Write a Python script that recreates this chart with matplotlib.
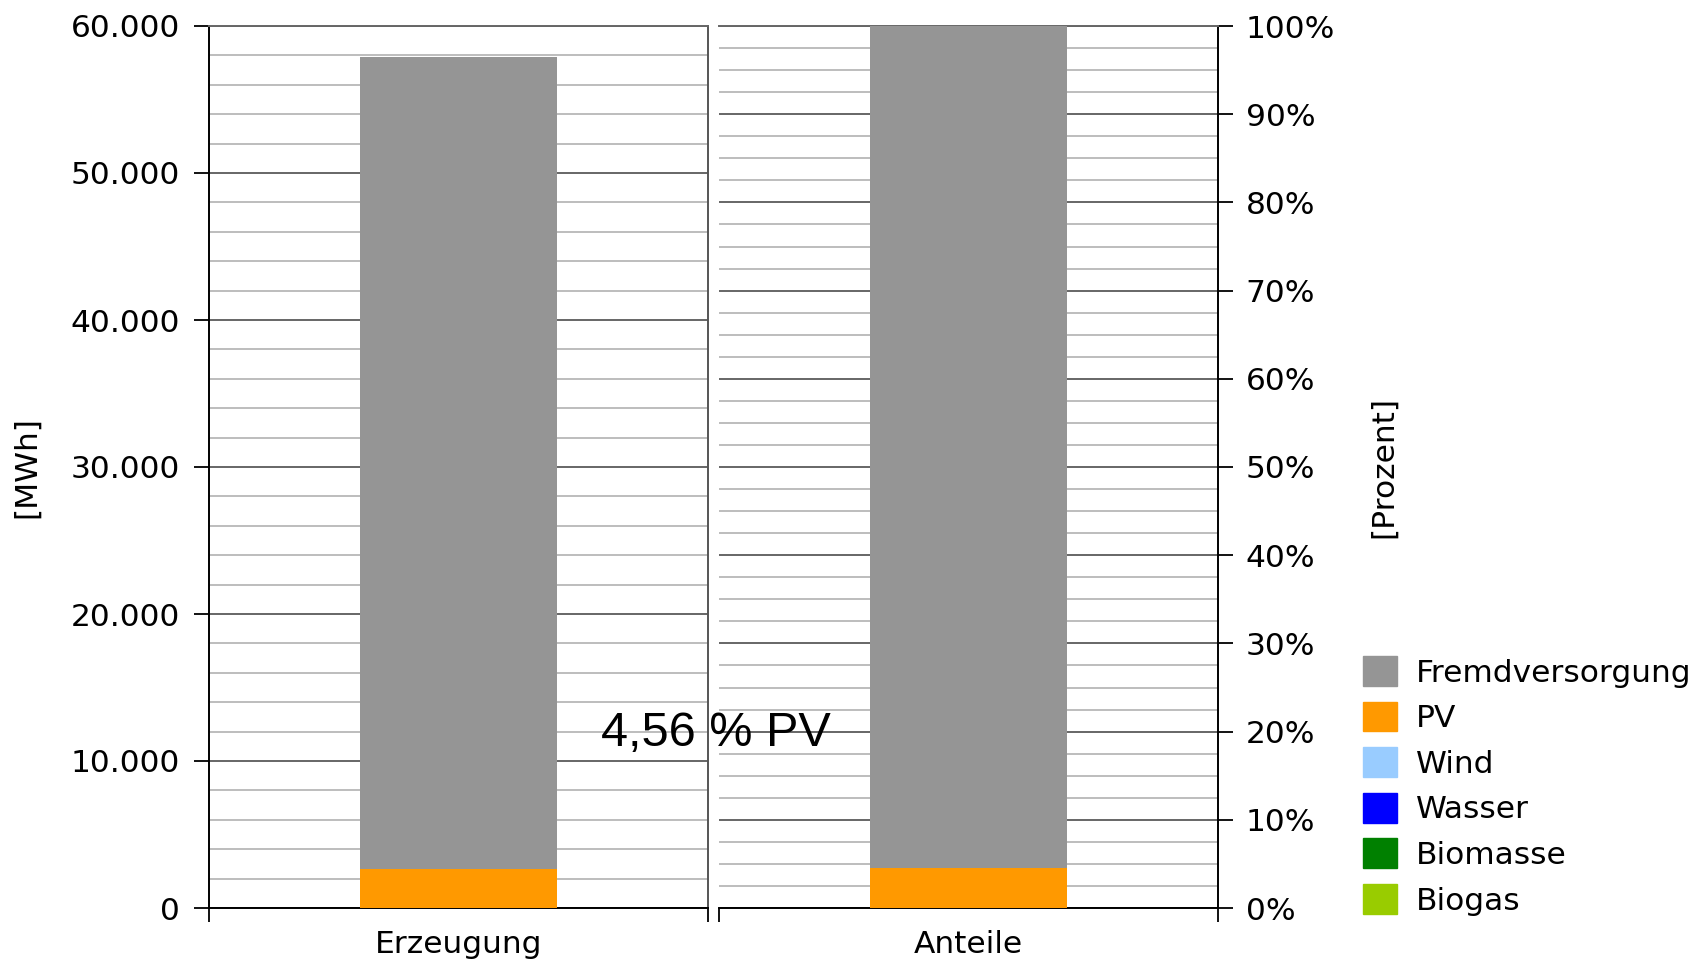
import numpy as np
import matplotlib
matplotlib.use("Agg")
import matplotlib.pyplot as plt
from matplotlib.patches import Patch
from matplotlib.ticker import MultipleLocator, FuncFormatter

# Daten (MWh)
quellen = ["Fremdversorgung", "PV", "Wind", "Wasser", "Biomasse", "Biogas"]
farben = ["#959595", "#ff9900", "#99ccff", "#0000ff", "#008000", "#99cc00"]
erzeugung = [55260, 2640, 0, 0, 0, 0]   # MWh
kategorien = ["Erzeugung", "Anteile"]

gesamt = sum(erzeugung)
anteile = [v / gesamt * 100 for v in erzeugung]
pv_anteil = erzeugung[1] / gesamt * 100

plt.rcParams['font.family'] = 'DejaVu Sans'
fs = 22.5

fig = plt.figure(figsize=(17.06, 9.69), dpi=100)
ax1 = fig.add_axes([209/1706, 61/969, 499/1706, 882/969])
ax2 = fig.add_axes([719/1706, 61/969, 499/1706, 882/969])

for ax, werte, kat in zip([ax1, ax2], [erzeugung, anteile], kategorien):
    unten = 0
    # gestapelte Saeule, Reihenfolge von unten: PV ... dann Fremdversorgung oben
    for idx in [1, 2, 3, 4, 5, 0]:
        ax.bar(0, werte[idx], width=0.395, bottom=unten, color=farben[idx], zorder=3)
        unten += werte[idx]
    ax.set_xlim(-0.5, 0.5)
    ax.set_xticks([0])
    ax.set_xticklabels([kat], fontsize=fs)
    ax.tick_params(axis='x', which='major', length=0, pad=16)
    ax.set_xticks([-0.5, 0.5], minor=True)
    ax.tick_params(axis='x', which='minor', length=10, width=1.3, direction='out')
    ax.grid(axis='y', which='major', color='#666666', lw=1.4, zorder=1)
    ax.grid(axis='y', which='minor', color='#bdbdbd', lw=1.4, zorder=1)
    ax.spines['top'].set_color('#666666')
    ax.spines['top'].set_linewidth(1.4)
    ax.spines['bottom'].set_linewidth(1.4)
    ax.tick_params(axis='y', which='minor', length=0)

# linke Achse MWh
ax1.set_ylim(0, 60000)
ax1.yaxis.set_major_locator(MultipleLocator(10000))
ax1.yaxis.set_minor_locator(MultipleLocator(2000))
ax1.yaxis.set_major_formatter(FuncFormatter(lambda v, p: f"{int(v):,}".replace(",", ".")))
ax1.tick_params(axis='y', which='major', length=11, width=1.3, pad=10, labelsize=fs)
ax1.spines['left'].set_linewidth(1.4)
ax1.spines['right'].set_color('#555555')
ax1.spines['right'].set_linewidth(1.4)

# rechte Achse Prozent
ax2.set_ylim(0, 100)
ax2.yaxis.set_major_locator(MultipleLocator(10))
ax2.yaxis.set_minor_locator(MultipleLocator(2.5))
ax2.yaxis.set_major_formatter(FuncFormatter(lambda v, p: f"{int(v)}%"))
ax2.yaxis.tick_right()
ax2.tick_params(axis='y', which='major', length=11, width=1.3, pad=9, labelsize=fs)
ax2.spines['left'].set_visible(False)
ax2.spines['right'].set_linewidth(1.4)

fig.text(27/1706, 1 - 467/969, "[MWh]", rotation=90, fontsize=fs, ha='center', va='center')
fig.text(1384/1706, 1 - 467/969, "[Prozent]", rotation=90, fontsize=fs, ha='center', va='center')

txt = f"{pv_anteil:.2f}".replace(".", ",") + " % PV"
fig.text(716/1706, 1 - 733/969, txt, fontsize=35, family='Liberation Sans', ha='center', va='center')

handles = [Patch(facecolor=c, edgecolor=c) for c in farben]
fig.legend(handles, quellen, loc='upper left', bbox_to_anchor=(1363/1706, 1 - 656/969),
           frameon=False, fontsize=fs, handlelength=1.09, handleheight=1.09,
           handletextpad=0.6, labelspacing=0.45, borderpad=0, borderaxespad=0)

plt.savefig("out.png", dpi=100)
